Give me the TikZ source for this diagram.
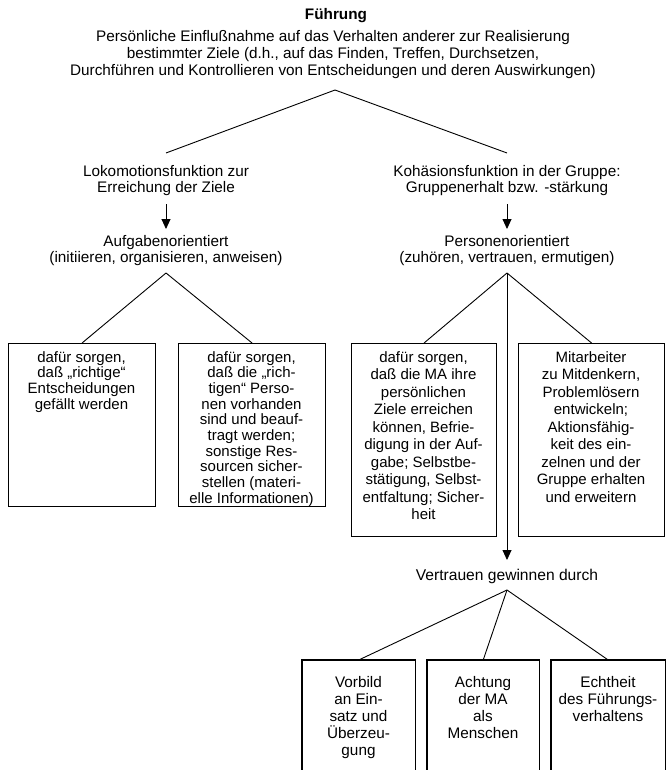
\documentclass[tikz,border=0pt]{standalone}
\usepackage{fontspec}
\setmainfont{Liberation Sans}
\usetikzlibrary{arrows.meta}
\begin{document}
\begin{tikzpicture}[x=1pt,y=-1pt,
  txt/.style={align=center, inner sep=0pt, anchor=north, font=\fontsize{15.3}{17}\selectfont},
  pair/.style={align=center, inner sep=0pt, anchor=north, font=\fontsize{15.3}{16}\selectfont},
  boxtxt/.style={align=center, inner sep=0pt, anchor=north, font=\fontsize{15}{15.7}\selectfont},
  boxtxtwide/.style={align=center, inner sep=0pt, anchor=north, font=\fontsize{15}{17.5}\selectfont},
  frame/.style={draw, line width=1.1pt, inner sep=0pt, anchor=north west},
  openframe/.style={inner sep=0pt, anchor=north west},
  link/.style={line width=0.9pt},
  down/.style={line width=0.9pt, -{Triangle[length=10pt,width=9pt]}}
]
\useasboundingbox (0,0) rectangle (667,770);

% heading and definition
\node[anchor=base, inner sep=0pt, font=\bfseries\fontsize{15.3}{17}\selectfont] (title) at (336,20) {Führung};
\node[txt] (def) at (333,30) {Persönliche Einflußnahme auf das Verhalten anderer zur Realisierung\\
bestimmter Ziele (d.h., auf das Finden, Treffen, Durchsetzen,\\
Durchführen und Kontrollieren von Entscheidungen und deren Auswirkungen)};
\coordinate (top) at (335,90);

% the two functions
\node[pair] (lok) at (166,165) {Lokomotionsfunktion zur\\Erreichung der Ziele};
\node[pair] (koh) at (507,165) {Kohäsionsfunktion in der Gruppe:\\Gruppenerhalt bzw. -stärkung};
\coordinate (lokin) at (166,153);
\coordinate (kohin) at (507,153);
\draw[link] (top) -- (lokin);
\draw[link] (top) -- (kohin);

% orientations
\node[pair] (auf) at (166,235) {Aufgabenorientiert\\(initiieren, organisieren, anweisen)};
\node[pair] (pers) at (507,235) {Personenorientiert\\(zuhören, vertrauen, ermutigen)};
\coordinate (lokout) at (166,204);
\coordinate (kohout) at (507,204);
\coordinate (aufin) at (166,229);
\coordinate (persin) at (507,229);
\draw[down] (lokout) -- (aufin);
\draw[down] (kohout) -- (persin);
\coordinate (aufout) at (166,273);
\coordinate (persout) at (507,273);

% task-oriented boxes
\node[frame, minimum width=147pt, minimum height=163pt] (b1) at (8,343) {};
\node[frame, minimum width=147pt, minimum height=163pt] (b2) at (178,343) {};
\node[boxtxt] (t1) at (81.5,351) {dafür sorgen,\\daß „richtige“\\Entscheidungen\\gefällt werden};
\node[boxtxt] (t2) at (251.5,351) {dafür sorgen,\\daß die „rich-\\tigen“ Perso-\\nen vorhanden\\sind und beauf-\\tragt werden;\\sonstige Res-\\sourcen sicher-\\stellen (materi-\\elle Informationen)};
\draw[link] (aufout) -- (b1.north);
\draw[link] (aufout) -- (b2.north);

% person-oriented boxes
\node[frame, minimum width=145pt, minimum height=193pt] (b3) at (351,343) {};
\node[frame, minimum width=146pt, minimum height=193pt] (b4) at (518,343) {};
\node[boxtxtwide] (t3) at (423.5,351) {dafür sorgen,\\daß die MA ihre\\persönlichen\\Ziele erreichen\\können, Befrie-\\digung in der Auf-\\gabe; Selbstbe-\\stätigung, Selbst-\\entfaltung; Sicher-\\heit};
\node[boxtxtwide] (t4) at (591,351) {Mitarbeiter\\zu Mitdenkern,\\Problemlösern\\entwickeln;\\Aktionsfähig-\\keit des ein-\\zelnen und der\\Gruppe erhalten\\und erweitern};
\draw[link] (persout) -- (b3.north);
\draw[link] (persout) -- (b4.north);

% trust
\node[anchor=base, inner sep=0pt, font=\fontsize{15.6}{17}\selectfont] (vert) at (507,580) {Vertrauen gewinnen durch};
\coordinate (vertin) at (507,560);
\draw[down] (persout) -- (vertin);
\coordinate (vertout) at (507,590);

% open boxes at the foot
\node[openframe, minimum width=113pt, minimum height=110pt] (b5) at (302,660) {};
\node[openframe, minimum width=112pt, minimum height=110pt] (b6) at (427,660) {};
\node[openframe, minimum width=114pt, minimum height=110pt] (b7) at (551,660) {};
\foreach \b in {b5,b6,b7}
  \draw[line width=1.1pt] (\b.south west) -- (\b.north west) -- (\b.north east) -- (\b.south east);
\node[txt] (t5) at (358.5,676) {Vorbild\\an Ein-\\satz und\\Überzeu-\\gung};
\node[txt] (t6) at (483,676) {Achtung\\der MA\\als\\Menschen};
\node[txt] (t7) at (608,676) {Echtheit\\des Führungs-\\verhaltens};
\draw[link] (vertout) -- (b5.north);
\draw[link] (vertout) -- (b6.north);
\draw[link] (vertout) -- (b7.north);
\end{tikzpicture}
\end{document}
